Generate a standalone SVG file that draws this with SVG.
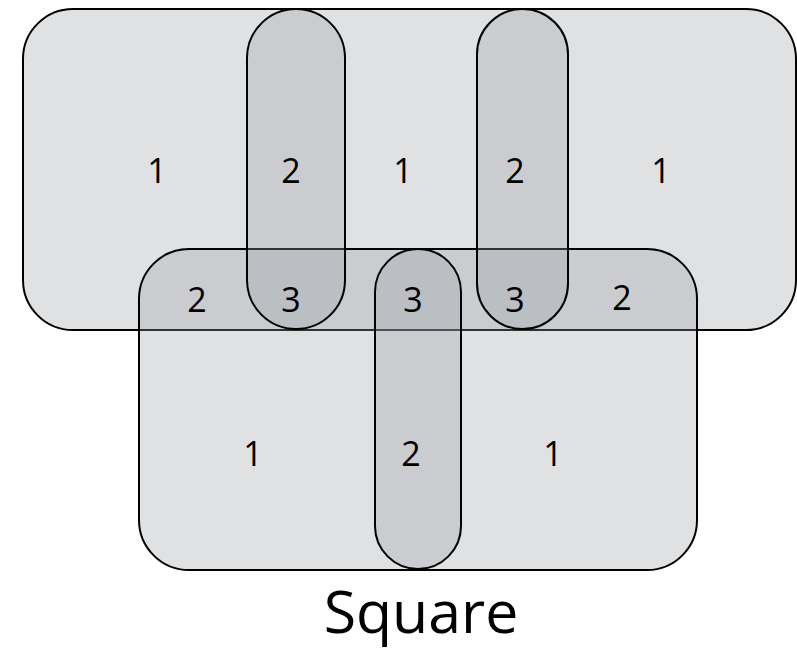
<svg xmlns="http://www.w3.org/2000/svg" width="797" height="651" viewBox="0 0 797 651">
<style>
.s{fill:#9c9ea5;fill-opacity:0.31;stroke:#000;stroke-width:2}
.t{font-family:"Open Sans","Noto Sans","Liberation Sans",sans-serif;font-size:34px;fill:#000;text-anchor:middle}
.title{font-family:"Open Sans","Noto Sans","Liberation Sans",sans-serif;font-size:59px;fill:#000;text-anchor:middle}
</style>
<rect width="797" height="651" fill="#fff"/>
<g id="set-top"><rect class="s" x="23" y="9" width="773" height="321" rx="50" ry="50"/></g>
<g id="set-bottom"><rect class="s" x="139" y="249" width="558" height="321" rx="50" ry="50"/></g>
<g id="pill-left"><rect class="s" x="247" y="9" width="98" height="320" rx="49" ry="49"/></g>
<g id="pill-right"><rect class="s" x="477" y="9" width="91" height="320" rx="45.5" ry="45.5"/></g>
<g id="pill-bottom"><rect class="s" x="375" y="249" width="86" height="320" rx="43" ry="43"/></g>
<g id="connectors"></g>
<g id="labels">
<text class="t" x="157" y="183">1</text>
<text class="t" x="291" y="183">2</text>
<text class="t" x="403" y="183">1</text>
<text class="t" x="515" y="183">2</text>
<text class="t" x="661" y="183">1</text>
<text class="t" x="197" y="312">2</text>
<text class="t" x="291" y="312">3</text>
<text class="t" x="413" y="312">3</text>
<text class="t" x="515" y="312">3</text>
<text class="t" x="622" y="310">2</text>
<text class="t" x="253" y="466">1</text>
<text class="t" x="411" y="466">2</text>
<text class="t" x="553" y="466">1</text>
</g>
<text class="title" x="421" y="633">Square</text>
</svg>
